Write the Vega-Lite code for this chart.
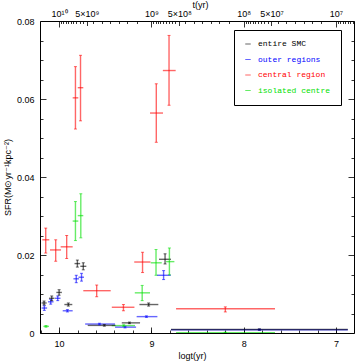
{
  "$schema": "https://vega.github.io/schema/vega-lite/v6.json",
  "width": 314,
  "height": 312,
  "autosize": {"type": "none"},
  "padding": {"left": 40, "top": 21, "right": 6, "bottom": 31},
  "background": "white",
  "config": {
    "view": {"stroke": "black", "strokeWidth": 1},
    "axis": {"grid": false, "domain": false, "labelFont": "Liberation Sans", "labelFontSize": 9, "labelColor": "black", "tickColor": "black", "tickWidth": 0.8, "titleFont": "Liberation Sans", "titleFontSize": 9, "titleFontWeight": "normal", "titleColor": "black", "labelFlush": false, "labelOverlap": false, "labelBound": false}
  },
  "data": {"values": [
    {"g": "central region", "x": 10.145, "xlo": 10.182, "xhi": 10.106, "y": 0.0239, "ylo": 0.0205, "yhi": 0.0269},
    {"g": "central region", "x": 10.037, "xlo": 10.099, "xhi": 9.979, "y": 0.0213, "ylo": 0.0184, "yhi": 0.0239},
    {"g": "central region", "x": 9.918, "xlo": 9.983, "xhi": 9.853, "y": 0.0221, "ylo": 0.0191, "yhi": 0.0250},
    {"g": "central region", "x": 9.823, "xlo": 9.853, "xhi": 9.792, "y": 0.0603, "ylo": 0.0523, "yhi": 0.0683},
    {"g": "central region", "x": 9.768, "xlo": 9.798, "xhi": 9.738, "y": 0.0629, "ylo": 0.0544, "yhi": 0.0712},
    {"g": "central region", "x": 9.593, "xlo": 9.738, "xhi": 9.441, "y": 0.01085, "ylo": 0.0093, "yhi": 0.0123},
    {"g": "central region", "x": 9.303, "xlo": 9.429, "xhi": 9.184, "y": 0.0066, "ylo": 0.0057, "yhi": 0.0073},
    {"g": "central region", "x": 9.096, "xlo": 9.186, "xhi": 9.010, "y": 0.0182, "ylo": 0.0155, "yhi": 0.0207},
    {"g": "central region", "x": 8.947, "xlo": 9.015, "xhi": 8.874, "y": 0.0564, "ylo": 0.0489, "yhi": 0.0639},
    {"g": "central region", "x": 8.809, "xlo": 8.876, "xhi": 8.737, "y": 0.0673, "ylo": 0.0584, "yhi": 0.0763},
    {"g": "central region", "x": 8.199, "xlo": 8.733, "xhi": 7.661, "y": 0.0062, "ylo": 0.0054, "yhi": 0.0067},
    {"g": "isolated centre", "x": 10.142, "xlo": 10.17, "xhi": 10.11, "y": 0.0017, "ylo": 0.0015, "yhi": 0.0019},
    {"g": "isolated centre", "x": 9.823, "xlo": 9.853, "xhi": 9.792, "y": 0.0287, "ylo": 0.0237, "yhi": 0.0337},
    {"g": "isolated centre", "x": 9.765, "xlo": 9.798, "xhi": 9.738, "y": 0.0301, "ylo": 0.0244, "yhi": 0.0357},
    {"g": "isolated centre", "x": 9.30, "xlo": 9.43, "xhi": 9.178, "y": 0.0019, "ylo": 0.0017, "yhi": 0.0021},
    {"g": "isolated centre", "x": 9.10, "xlo": 9.18, "xhi": 9.015, "y": 0.0103, "ylo": 0.0083, "yhi": 0.0122},
    {"g": "isolated centre", "x": 8.95, "xlo": 9.007, "xhi": 8.888, "y": 0.0180, "ylo": 0.0148, "yhi": 0.0214},
    {"g": "isolated centre", "x": 8.805, "xlo": 8.841, "xhi": 8.751, "y": 0.0183, "ylo": 0.0149, "yhi": 0.0218},
    {"g": "isolated centre", "x": 8.2, "xlo": 8.733, "xhi": 7.661, "y": 0.0001, "ylo": 0.0, "yhi": 0.0002},
    {"g": "outer regions", "x": 10.16, "xlo": 10.19, "xhi": 10.13, "y": 0.0064, "ylo": 0.0058, "yhi": 0.0070},
    {"g": "outer regions", "x": 10.091, "xlo": 10.12, "xhi": 10.06, "y": 0.0080, "ylo": 0.0074, "yhi": 0.0086},
    {"g": "outer regions", "x": 10.015, "xlo": 10.045, "xhi": 9.985, "y": 0.0089, "ylo": 0.0083, "yhi": 0.0095},
    {"g": "outer regions", "x": 9.91, "xlo": 9.961, "xhi": 9.853, "y": 0.0057, "ylo": 0.0054, "yhi": 0.0060},
    {"g": "outer regions", "x": 9.814, "xlo": 9.845, "xhi": 9.785, "y": 0.0139, "ylo": 0.0129, "yhi": 0.0148},
    {"g": "outer regions", "x": 9.757, "xlo": 9.79, "xhi": 9.73, "y": 0.0143, "ylo": 0.0133, "yhi": 0.0153},
    {"g": "outer regions", "x": 9.563, "xlo": 9.718, "xhi": 9.394, "y": 0.0023, "ylo": 0.0021, "yhi": 0.0025},
    {"g": "outer regions", "x": 9.286, "xlo": 9.394, "xhi": 9.166, "y": 0.0015, "ylo": 0.0013, "yhi": 0.0017},
    {"g": "outer regions", "x": 9.054, "xlo": 9.16, "xhi": 8.935, "y": 0.0042, "ylo": 0.0040, "yhi": 0.0044},
    {"g": "outer regions", "x": 8.868, "xlo": 8.94, "xhi": 8.79, "y": 0.0148, "ylo": 0.0137, "yhi": 0.0160},
    {"g": "outer regions", "x": 7.83, "xlo": 8.788, "xhi": 6.872, "y": 0.00085, "ylo": 0.0007, "yhi": 0.0010},
    {"g": "entire SMC", "x": 10.163, "xlo": 10.19, "xhi": 10.135, "y": 0.0077, "ylo": 0.0072, "yhi": 0.0082},
    {"g": "entire SMC", "x": 10.08, "xlo": 10.11, "xhi": 10.05, "y": 0.0089, "ylo": 0.0083, "yhi": 0.0095},
    {"g": "entire SMC", "x": 10.0, "xlo": 10.03, "xhi": 9.97, "y": 0.0104, "ylo": 0.0097, "yhi": 0.0111},
    {"g": "entire SMC", "x": 9.9, "xlo": 9.943, "xhi": 9.857, "y": 0.0073, "ylo": 0.0069, "yhi": 0.0077},
    {"g": "entire SMC", "x": 9.802, "xlo": 9.833, "xhi": 9.772, "y": 0.0178, "ylo": 0.0169, "yhi": 0.0187},
    {"g": "entire SMC", "x": 9.738, "xlo": 9.77, "xhi": 9.705, "y": 0.0171, "ylo": 0.0162, "yhi": 0.0180},
    {"g": "entire SMC", "x": 9.51, "xlo": 9.69, "xhi": 9.39, "y": 0.00195, "ylo": 0.00175, "yhi": 0.00215},
    {"g": "entire SMC", "x": 9.238, "xlo": 9.321, "xhi": 9.123, "y": 0.0026, "ylo": 0.0024, "yhi": 0.0028},
    {"g": "entire SMC", "x": 9.03, "xlo": 9.13, "xhi": 8.925, "y": 0.0073, "ylo": 0.0069, "yhi": 0.0077},
    {"g": "entire SMC", "x": 8.852, "xlo": 8.918, "xhi": 8.788, "y": 0.0189, "ylo": 0.0177, "yhi": 0.0203},
    {"g": "entire SMC", "x": 7.83, "xlo": 8.788, "xhi": 6.872, "y": 0.0009, "ylo": 0.00075, "yhi": 0.00105}
  ]},
  "encoding": {
    "color": {
      "field": "g", "type": "nominal",
      "scale": {"domain": ["entire SMC", "outer regions", "central region", "isolated centre"], "range": ["#000000", "#0000ff", "#ff0000", "#00e000"]},
      "legend": {
        "orient": "none", "legendX": 194, "legendY": 9, "title": null,
        "symbolType": "stroke", "symbolSize": 30, "symbolStrokeWidth": 1, "symbolOpacity": 0.6,
        "labelFont": "Liberation Mono", "labelFontSize": 8, "labelOffset": 6, "rowPadding": 7.5,
        "padding": 10, "strokeColor": "black", "fillColor": "white",
        "encode": {"labels": {"update": {"fill": {"scale": "color", "field": "value"}}}}
      }
    }
  },
  "resolve": {"scale": {"x": "shared", "y": "shared"}, "axis": {"x": "independent", "y": "independent"}},
  "layer": [
    {
      "mark": {"type": "rule", "strokeWidth": 1.4, "opacity": 0.6, "clip": true},
      "encoding": {
        "x": {"field": "xlo", "type": "quantitative", "scale": {"domain": [6.805, 10.207], "reverse": true, "nice": false, "zero": false},
              "axis": {"orient": "bottom", "values": [10, 9, 8, 7], "ticks": false, "labelPadding": 6, "title": "logt(yr)", "titlePadding": 3, "titleX": 152}},
        "x2": {"field": "xhi"},
        "y": {"field": "y", "type": "quantitative", "scale": {"domain": [0, 0.08], "nice": false, "zero": false},
              "axis": {"orient": "left", "values": [0, 0.02, 0.04, 0.06, 0.08], "ticks": false, "labelPadding": 6, "labelExpr": "datum.value == 0 ? '0' : format(datum.value, '.2f')", "title": "SFR(M⊙yr⁻¹kpc⁻²)", "titlePadding": 4}}
      }
    },
    {
      "mark": {"type": "rule", "strokeWidth": 1.4, "opacity": 0.6, "clip": true},
      "encoding": {
        "x": {"field": "x", "type": "quantitative", "scale": {"domain": [6.805, 10.207], "reverse": true, "nice": false, "zero": false},
              "axis": {"orient": "bottom", "values": [10, 9, 8, 7], "labels": false, "tickSize": -6, "title": null}},
        "y": {"field": "ylo", "type": "quantitative", "scale": {"domain": [0, 0.08], "nice": false, "zero": false},
              "axis": {"orient": "left", "values": [0, 0.02, 0.04, 0.06, 0.08], "labels": false, "tickSize": -6, "title": null}},
        "y2": {"field": "yhi"}
      }
    },
    {
      "mark": {"type": "tick", "orient": "horizontal", "size": 3, "thickness": 1, "opacity": 0.6, "clip": true},
      "encoding": {
        "x": {"field": "x", "type": "quantitative", "scale": {"domain": [6.805, 10.207], "reverse": true, "nice": false, "zero": false},
              "axis": {"orient": "bottom", "values": [10.2, 10, 9.8, 9.6, 9.4, 9.2, 9, 8.8, 8.6, 8.4, 8.2, 8, 7.8, 7.6, 7.4, 7.2, 7, 6.8], "labels": false, "tickSize": -3, "title": null}},
        "y": {"field": "yhi", "type": "quantitative", "scale": {"domain": [0, 0.08], "nice": false, "zero": false},
              "axis": {"orient": "left", "values": [0.005, 0.01, 0.015, 0.025, 0.03, 0.035, 0.045, 0.05, 0.055, 0.065, 0.07, 0.075], "labels": false, "tickSize": -3, "title": null}}
      }
    },
    {
      "mark": {"type": "tick", "orient": "horizontal", "size": 3, "thickness": 1, "opacity": 0.6, "clip": true},
      "encoding": {
        "x": {"field": "x", "type": "quantitative", "scale": {"domain": [6.805, 10.207], "reverse": true, "nice": false, "zero": false},
              "axis": {"orient": "top", "values": [10, 9.69897, 9, 8.69897, 8, 7.69897, 7], "ticks": false, "labelPadding": 3,
                       "labelExpr": "datum.value > 9.9 ? '10¹⁰' : datum.value > 9.5 ? '5×10⁹' : datum.value > 8.9 ? '10⁹' : datum.value > 8.5 ? '5×10⁸' : datum.value > 7.9 ? '10⁸' : datum.value > 7.5 ? '5×10⁷' : '10⁷'",
                       "title": "t(yr)", "titlePadding": 0, "titleX": 160}},
        "y": {"field": "ylo", "type": "quantitative", "scale": {"domain": [0, 0.08], "nice": false, "zero": false},
              "axis": {"orient": "right", "values": [0, 0.02, 0.04, 0.06, 0.08], "labels": false, "tickSize": -6, "title": null}}
      }
    },
    {
      "mark": {"type": "point", "opacity": 0},
      "encoding": {
        "x": {"field": "x", "type": "quantitative", "scale": {"domain": [6.805, 10.207], "reverse": true, "nice": false, "zero": false},
              "axis": {"orient": "top", "values": [10, 9, 8, 7], "labels": false, "tickSize": -6, "title": null}},
        "y": {"field": "y", "type": "quantitative", "scale": {"domain": [0, 0.08], "nice": false, "zero": false},
              "axis": {"orient": "right", "values": [0.005, 0.01, 0.015, 0.025, 0.03, 0.035, 0.045, 0.05, 0.055, 0.065, 0.07, 0.075], "labels": false, "tickSize": -3, "title": null}}
      }
    },
    {
      "mark": {"type": "point", "opacity": 0},
      "encoding": {
        "x": {"field": "x", "type": "quantitative", "scale": {"domain": [6.805, 10.207], "reverse": true, "nice": false, "zero": false},
              "axis": {"orient": "top", "values": [9.69897, 8.69897, 7.69897], "labels": false, "tickSize": -4.5, "title": null}},
        "y": {"field": "y", "type": "quantitative", "scale": {"domain": [0, 0.08], "nice": false, "zero": false}, "axis": null}
      }
    },
    {
      "mark": {"type": "point", "opacity": 0},
      "encoding": {
        "x": {"field": "x", "type": "quantitative", "scale": {"domain": [6.805, 10.207], "reverse": true, "nice": false, "zero": false},
              "axis": {"orient": "top", "labels": false, "tickSize": -2.5, "title": null,
                       "values": [9.9777, 9.9542, 9.9294, 9.9031, 9.8751, 9.8451, 9.8129, 9.7782, 9.7404, 9.633, 9.539, 9.449, 9.351, 9.264, 9.159,
                                  8.9777, 8.9542, 8.9294, 8.9031, 8.8751, 8.8451, 8.8129, 8.7782, 8.7404, 8.633, 8.539, 8.449, 8.351, 8.264, 8.159,
                                  7.9777, 7.9542, 7.9294, 7.9031, 7.8751, 7.8451, 7.8129, 7.7782, 7.7404, 7.633, 7.539, 7.449, 7.351, 7.264, 7.159,
                                  6.9777, 6.9542, 6.9294, 6.9031, 6.8751, 6.8451, 6.8129]}},
        "y": {"field": "y", "type": "quantitative", "scale": {"domain": [0, 0.08], "nice": false, "zero": false}, "axis": null}
      }
    }
  ]
}
